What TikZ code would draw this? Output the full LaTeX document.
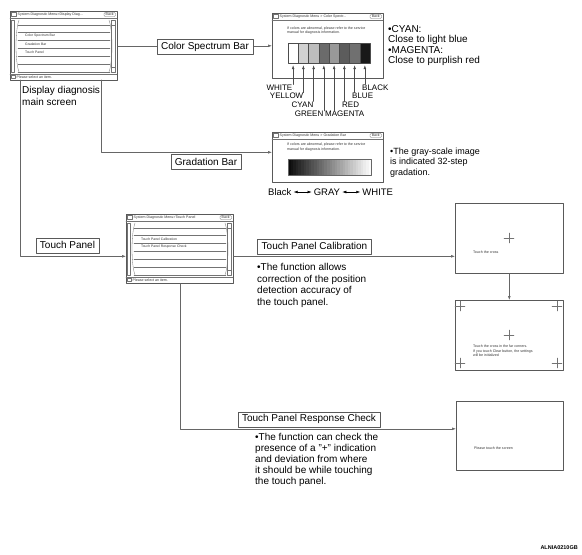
\documentclass[tikz,border=0pt]{standalone}
\usepackage{fontspec}
\setmainfont{Liberation Sans}
\usetikzlibrary{arrows.meta,positioning,calc}

\tikzset{
  screen/.style={draw=black!65, line width=0.6pt, inner sep=0pt, anchor=north west},
  scrline/.style={draw=black!55, line width=0.3pt},
  scrtext/.style={inner sep=0pt, anchor=west, font=\fontsize{3.6}{4.4}\selectfont, text=black!80},
  item/.style={scrtext, font=\fontsize{3.4}{4}\selectfont},
  tag/.style={draw=black!65, fill=white, line width=0.5pt, inner xsep=4pt, inner ysep=0pt, minimum height=15pt, font=\fontsize{10}{12}\selectfont},
  note/.style={inner sep=0pt, anchor=north west, align=left, font=\fontsize{10}{11.5}\selectfont},
  colname/.style={inner sep=0pt, font=\fontsize{8}{9}\selectfont},
  swatch/.style={draw=black!70, line width=0.4pt, minimum width=10.25pt, minimum height=20pt, inner sep=0pt},
  flow/.style={draw=black!60, line width=0.6pt, ->},
}

% title bar of a screen (used inside a shifted scope)
\newcommand{\titlebar}[3]{% #1 node, #2 width, #3 title
  \draw (0,7) -- (#2,7);
  \draw (1.5,1.5) rectangle (6,5.5);
  \node[scrtext] (#1-ttl) at (7.5,4) {#3};
  \draw[rounded corners=1.2pt] ({#2-13},1.5) rectangle ({#2-1.5},5.5);
  \node[scrtext, anchor=center] (#1-back) at ({#2-7.25},3.6) {Back};
}

% list of a menu screen with three rows of items
\newcommand{\menulist}[4]{% #1 node, #2-#4 items
  \draw (1.5,9) rectangle (4,61);
  \draw (9,9) .. controls (5,20) and (5,50) .. (9,61);
  \draw (99,9) .. controls (103,20) and (103,50) .. (99,61);
  \draw (101.5,9) rectangle (105.5,61);
  \draw (101.5,14) -- (105.5,14) (101.5,56) -- (105.5,56);
  \foreach \rowy in {14,21,29,37,45,53,61} \draw (8,\rowy) -- (100,\rowy);
  \node[item] (#1-a) at (15,25) {#2};
  \node[item] (#1-b) at (15,33) {#3};
  \node[item] (#1-c) at (15,41) {#4};
  % status bar
  \draw (0,63) -- (107,63);
  \draw (1.5,64.5) rectangle (5,67.5);
  \node[scrtext] (#1-stat) at (6.5,66) {Please select an item.};
}

\begin{document}
\begin{tikzpicture}[x=1pt, y=-1pt, >={Latex[length=4pt,width=2.8pt]}, line cap=round, line join=round]

  \fill[white] (0,0) rectangle (582,555);
  \useasboundingbox (0,0) rectangle (582,555);

  % screens
  \node[screen, minimum width=107, minimum height=69] (mainscr) at (10,11) {};
  \node[screen, minimum width=111, minimum height=65] (colscr) at (272,13) {};
  \node[screen, minimum width=111, minimum height=50] (gradscr) at (272,132) {};
  \node[screen, minimum width=107, minimum height=69] (tpscr) at (126,214) {};
  \node[screen, minimum width=108, minimum height=70] (calscr) at (455,203) {};
  \node[screen, minimum width=108, minimum height=70] (cornscr) at (455,300) {};
  \node[screen, minimum width=107, minimum height=69] (respscr) at (456,401) {};

  % menu screens
  \begin{scope}[shift={(mainscr.north west)}, scrline]
    \titlebar{mainscr}{107}{System Diagnostic Menu>Display Diag...}
    \menulist{mainscr}{Color Spectrum Bar}{Gradation Bar}{Touch Panel}
  \end{scope}
  \begin{scope}[shift={(tpscr.north west)}, scrline]
    \titlebar{tpscr}{107}{System Diagnostic Menu>Touch Panel}
    \menulist{tpscr}{Touch Panel Calibration}{Touch Panel Response Check}{}
  \end{scope}

  % color spectrum screen
  \begin{scope}[shift={(colscr.north west)}, scrline]
    \titlebar{colscr}{111}{System Diagnostic Menu > Color Spectr...}
    \node[scrtext, anchor=north west, align=left] (colscr-msg) at (15,13.5)
      {If colors are abnormal, please refer to the service\\manual for diagnosis information.};
  \end{scope}
  \foreach \swc [count=\k] in {white, black!18, black!26, black!58, black!40, black!64, black!56, black!90}
    \node[swatch, fill=\swc] (sw\k) at ({288+10.25*(\k-0.5)},53) {};

  % color names
  \node[colname, anchor=east] (cwhite) at (292.5,87.5) {WHITE};
  \node[colname, anchor=east] (cyellow) at (303.5,95.8) {YELLOW};
  \node[colname, anchor=east] (ccyan) at (313.5,104.5) {CYAN};
  \node[colname, anchor=east] (cgreen) at (323.5,114) {GREEN};
  \node[colname, anchor=west] (cmagenta) at (325,114) {MAGENTA};
  \node[colname, anchor=west] (cred) at (342,104.5) {RED};
  \node[colname, anchor=west] (cblue) at (352,95.8) {BLUE};
  \node[colname, anchor=west] (cblack) at (362,87.5) {BLACK};
  \foreach \k/\cn in {1/cwhite, 2/cyellow, 3/ccyan, 4/cgreen, 5/cmagenta, 6/cred, 7/cblue, 8/cblack}
    \draw[->, black!70, line width=0.5pt, shorten >=2pt] (sw\k.south |- \cn.north) -- (sw\k.south);

  \node[note, font=\fontsize{10}{10.6}\selectfont] (colnote) at (388,25)
    {\textbullet CYAN:\\Close to light blue\\\textbullet MAGENTA:\\Close to purplish red};

  % gradation screen
  \begin{scope}[shift={(gradscr.north west)}, scrline]
    \titlebar{gradscr}{111}{System Diagnostic Menu > Gradation Bar}
    \node[scrtext, anchor=north west, align=left] (gradscr-msg) at (15,11)
      {If colors are abnormal, please refer to the service\\manual for diagnosis information.};
  \end{scope}
  \foreach \i [evaluate=\i as \shd using 95-3*\i] in {0,...,31}
    \fill[black!\shd] ({288+2.6*\i},159) rectangle ++(2.6,16);
  \draw[black!60, line width=0.3pt] (288,159) rectangle (371.2,175);

  \node[note, font=\fontsize{9}{10.2}\selectfont] (gradnote) at (390,148)
    {\textbullet The gray-scale image\\is indicated 32-step\\gradation.};

  \node[inner sep=0pt, font=\fontsize{9.5}{11}\selectfont, anchor=west] (gblack) at (268,192) {Black};
  \node[inner sep=0pt, font=\fontsize{9.5}{11}\selectfont, right=22pt of gblack] (ggray) {GRAY};
  \node[inner sep=0pt, font=\fontsize{9.5}{11}\selectfont, right=22pt of ggray] (gwhite) {WHITE};
  \draw[<->, line width=0.5pt, shorten <=2pt, shorten >=2pt] (gblack) -- (ggray);
  \draw[<->, line width=0.5pt, shorten <=2pt, shorten >=2pt] (ggray) -- (gwhite);

  % touch screens
  \begin{scope}[shift={(calscr.north west)}, scrline]
    \draw (49,35) -- (59,35) (54,30) -- (54,40);
    \node[scrtext] (calscr-msg) at (18,49) {Touch the cross};
  \end{scope}
  \begin{scope}[shift={(cornscr.north west)}, scrline]
    \foreach \cx/\cy in {5/6, 102/6, 5/63, 102/63, 54/35}
      \draw ({\cx-5},\cy) -- ({\cx+5},\cy) (\cx,{\cy-5}) -- (\cx,{\cy+5});
    \node[scrtext, anchor=north west, align=left] (cornscr-msg) at (18,45)
      {Touch the cross in the far corners.\\If you touch Clear button, the settings\\will be initialized};
  \end{scope}
  \begin{scope}[shift={(respscr.north west)}, scrline]
    \node[scrtext] (respscr-msg) at (18,47) {Please touch the screen};
  \end{scope}

  % captions and notes
  \node[note] (maincap) at (22,86.5) {Display diagnosis\\main screen};
  \node[note] (calnote) at (257,263.5)
    {\textbullet The function allows\\correction of the position\\detection accuracy of\\the touch panel.};
  \node[note, font=\fontsize{10}{11}\selectfont] (respnote) at (255,433.5)
    {\textbullet The function can check the\\presence of a "+" indication\\and deviation from where\\it should be while touching\\the touch panel.};

  % connectors
  \coordinate (m-grad) at (101,80);
  \coordinate (m-tp) at (20,80);
  \coordinate (g-in) at ($(gradscr.west)+(0,-5)$);
  \coordinate (t-in) at ($(tpscr.west)+(0,7.5)$);
  \coordinate (r-in) at ($(respscr.west)+(0,-7)$);

  \draw[flow] (mainscr.east) -- (colscr.west);
  \draw[flow] (m-grad) |- (g-in);
  \draw[flow] (m-tp) |- (t-in);
  \draw[flow] (t-in -| tpscr.east) -- (t-in -| calscr.west);
  \draw[flow] (calscr.south) -- (cornscr.north);
  \draw[flow] (tpscr.south) |- (r-in);

  % tags on the connectors
  \node[tag] (tagcol) at (205,47) {Color Spectrum Bar};
  \node[tag] (taggrad) at (206,162) {Gradation Bar};
  \node[tag, anchor=south] (tagtp) at (67.5,253) {Touch Panel};
  \node[tag, anchor=south] (tagcal) at (314.5,254) {Touch Panel Calibration};
  \node[tag, anchor=south] (tagresp) at (309,427) {Touch Panel Response Check};

  \node[inner sep=0pt, font=\bfseries\fontsize{5.5}{6}\selectfont, anchor=east] (figid) at (578,548) {ALNIA0210GB};

\end{tikzpicture}
\end{document}
